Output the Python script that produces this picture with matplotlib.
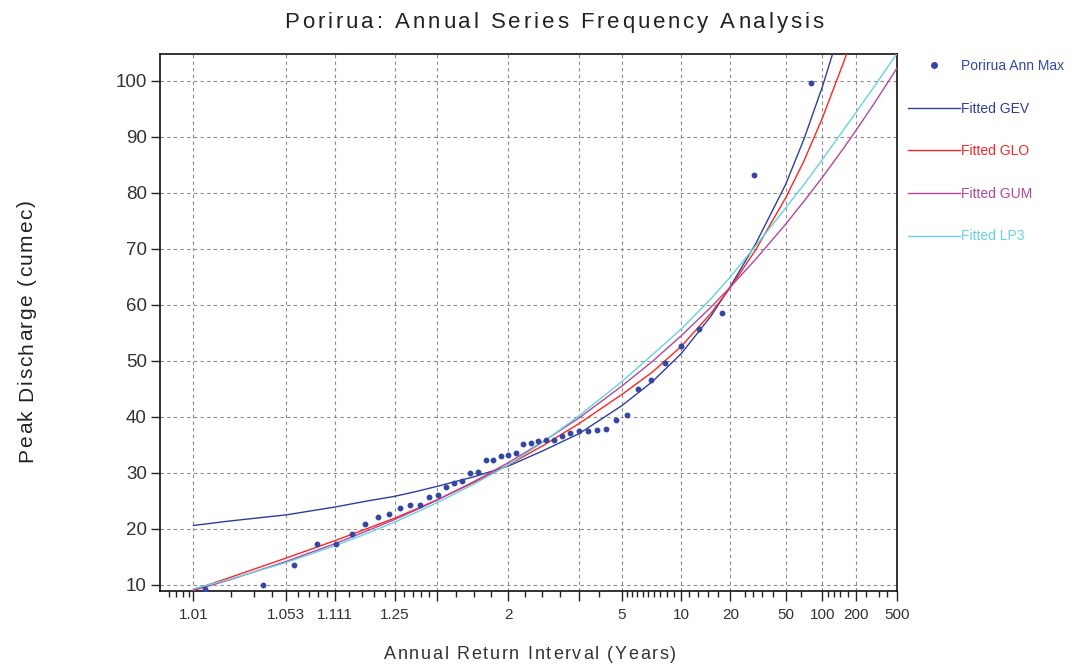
import numpy as np
import matplotlib
matplotlib.use("Agg")
import matplotlib.pyplot as plt
from matplotlib.lines import Line2D
from matplotlib.ticker import FixedLocator, FixedFormatter, NullFormatter
from matplotlib.font_manager import FontProperties, findfont
from matplotlib.ft2font import FT2Font
from statistics import NormalDist

# ---------------- data ----------------
obs_T = [1.0126, 1.0358, 1.0602, 1.0857, 1.1124, 1.1406, 1.1701, 1.2013, 1.2341,
         1.2688, 1.3056, 1.3445, 1.3858, 1.4297, 1.4764, 1.5264, 1.5798, 1.6372,
         1.6988, 1.7653, 1.8371, 1.9151, 2.0, 2.0928, 2.1946, 2.3068, 2.4310,
         2.5695, 2.7246, 2.8998, 3.0989, 3.3274, 3.5924, 3.9031, 4.2727, 4.7197,
         5.2710, 5.9683, 6.8780, 8.1151, 9.8947, 12.674, 17.625, 28.923, 80.571]
obs_Q = [9.3, 10.0, 13.6, 17.3, 17.3, 19.1, 20.9, 22.2, 22.7, 23.7, 24.2, 24.3,
         25.7, 26.0, 27.4, 28.1, 28.5, 29.9, 30.2, 32.3, 32.3, 33.0, 33.2, 33.6,
         35.1, 35.4, 35.6, 35.8, 35.8, 36.5, 37.1, 37.5, 37.5, 37.6, 37.8, 39.4,
         40.3, 44.9, 46.5, 49.7, 52.7, 55.7, 58.5, 83.2, 99.7]

gev_T = [1.01, 1.02, 1.053, 1.111, 1.176, 1.25, 1.333, 1.4286, 1.667, 2, 2.5,
         3.333, 5, 7, 10, 15, 20, 30, 50, 70, 100, 150]
gev_Q = [20.6, 21.4, 22.5, 23.9, 25.0, 25.8, 26.7, 27.6, 29.3, 31.2, 33.9,
         37.0, 42.0, 46.3, 51.3, 58.0, 63.3, 71.0, 81.5, 89.6, 99.0, 110.5]

glo_T = [1.01, 1.02, 1.053, 1.111, 1.176, 1.25, 1.333, 1.4286, 1.667, 2, 2.5,
         3.333, 5, 7, 10, 15, 20, 30, 50, 70, 100, 150, 200]
glo_Q = [9.1, 11.3, 14.8, 17.9, 20.1, 21.9, 23.6, 25.2, 28.3, 31.4, 34.8,
         38.8, 44.0, 48.0, 52.6, 58.5, 63.1, 69.9, 79.1, 85.7, 93.4, 102.8, 109.5]

gum_T = [1.01, 1.02, 1.053, 1.111, 1.176, 1.25, 1.333, 1.4286, 1.667, 2, 2.5,
         3.333, 5, 7, 10, 15, 20, 30, 50, 70, 100, 150, 200, 300, 500]
gum_Q = [9.0, 10.9, 14.2, 17.35, 19.7, 21.65, 23.45, 25.15, 28.45, 31.8, 35.5,
         39.8, 45.5, 49.9, 54.5, 59.6, 63.2, 68.2, 74.4, 78.5, 82.8, 87.7, 91.2,
         96.1, 102.3]

lp3_T = [1.01, 1.02, 1.053, 1.111, 1.176, 1.25, 1.333, 1.4286, 1.667, 2, 2.5,
         3.333, 5, 7, 10, 15, 20, 30, 50, 70, 100, 150, 200, 300, 500]
lp3_Q = [9.3, 11.0, 14.0, 17.0, 19.25, 21.2, 23.0, 24.7, 28.0, 31.4, 35.4,
         40.2, 46.3, 51.1, 55.7, 61.1, 65.0, 70.6, 77.3, 81.5, 86.0, 91.0, 94.4,
         99.1, 104.9]

major_ticks = [1.01, 1.053, 1.111, 1.25, 1.4286, 2, 3.333, 5, 10, 20, 50, 100, 200, 500]
major_labels = ["1.01", "1.053", "1.111", "1.25", "", "2", "", "5", "10", "20",
                "50", "100", "200", "500"]
minor_probs = [0.006, 0.007, 0.008, 0.009, 0.02, 0.03, 0.04, 0.06, 0.07, 0.08, 0.09,
               0.12, 0.14, 0.16, 0.18, 0.22, 0.24, 0.26, 0.28, 0.35, 0.40, 0.45,
               0.55, 0.60, 0.65, 0.75, 0.81, 0.82, 0.83, 0.84, 0.85, 0.86, 0.87,
               0.88, 0.89, 0.91, 0.92, 0.93, 0.94, 0.96, 0.965, 0.97, 0.975,
               0.985, 0.991, 0.992, 0.993, 0.994, 0.996, 0.997, 0.9975]
y_ticks = [10, 20, 30, 40, 50, 60, 70, 80, 90, 100]

title_text = "Porirua: Annual Series Frequency Analysis"
xlabel_text = "Annual Return Interval (Years)"
ylabel_text = "Peak Discharge (cumec)"
series_labels = ["Porirua Ann Max", "Fitted GEV", "Fitted GLO", "Fitted GUM", "Fitted LP3"]

c_obs = "#3447a3"
c_gev = "#2d3f9e"
c_glo = "#ff2424"
c_gum = "#b4469f"
c_lp3 = "#66d3e0"

W, H, DPI = 1075, 668, 100
FONT = 'Liberation Sans'

# ---------------- normal-probability return period scale ----------------
_nd = NormalDist()
_ppf = np.vectorize(_nd.inv_cdf, otypes=[float])
_cdf = np.vectorize(_nd.cdf, otypes=[float])


def fwd(T):
    T = np.asarray(T, dtype=float)
    p = 1.0 - 1.0 / np.clip(T, 1.0 + 1e-12, 1e12)
    p = np.clip(p, 1e-12, 1 - 1e-12)
    return _ppf(p)


def inv(z):
    z = np.clip(np.asarray(z, dtype=float), -7.0, 7.0)
    return 1.0 / (1.0 - _cdf(z))


plt.rcParams['font.family'] = [FONT, 'DejaVu Sans']

fig = plt.figure(figsize=(W / DPI, H / DPI), dpi=DPI)
ax = fig.add_axes([160 / W, 1 - 591 / H, (897 - 160) / W, (591 - 54) / H])
ax.set_xscale('function', functions=(fwd, inv))

ax.plot(gev_T, gev_Q, color=c_gev, lw=1.0, zorder=3)
ax.plot(glo_T, glo_Q, color=c_glo, lw=1.0, zorder=3)
ax.plot(gum_T, gum_Q, color=c_gum, lw=1.0, zorder=3)
ax.plot(lp3_T, lp3_Q, color=c_lp3, lw=1.0, zorder=3)
ax.plot(obs_T, obs_Q, linestyle='none', marker='o', markersize=3.2,
        color=c_obs, zorder=4)

ax.set_xlim(1.005, 500)
ax.set_ylim(8.9, 104.8)

ax.xaxis.set_major_locator(FixedLocator(major_ticks))
ax.xaxis.set_major_formatter(FixedFormatter(major_labels))
minor_T = [1.0 / (1.0 - p) for p in minor_probs]
ax.xaxis.set_minor_locator(FixedLocator(minor_T))
ax.xaxis.set_minor_formatter(NullFormatter())
ax.set_yticks(y_ticks)

ax.grid(True, which='major', linestyle=(0, (3, 3)), color='#8a8a8a', linewidth=0.8)
ax.set_axisbelow(True)

ax.tick_params(axis='x', which='major', direction='out', length=7, width=1,
               color='#222222', labelsize=11, labelcolor='#333333', pad=5)
ax.tick_params(axis='x', which='minor', direction='out', length=4.5, width=1,
               color='#222222')
ax.tick_params(axis='y', which='major', direction='out', length=6.5, width=1,
               color='#222222', labelsize=13.5, labelcolor='#333333', pad=3)
for s in ax.spines.values():
    s.set_linewidth(1.2)
    s.set_color('#111111')

# ---------------- letter-spaced text (SAS style) ----------------
_font_path = findfont(FontProperties(family=FONT))


def _advances(s, size):
    ft = FT2Font(_font_path)
    ft.set_size(size, DPI)
    return [ft.load_char(ord(ch)).linearHoriAdvance / 65536.0 for ch in s]


def spaced_text(s, cx, base, size, spacing, color):
    adv = _advances(s, size)
    total = sum(adv) + spacing * (len(s) - 1)
    pos = cx - total / 2.0
    for ch, a in zip(s, adv):
        if ch != ' ':
            fig.text(pos / W, 1 - base / H, ch, fontsize=size, color=color,
                     ha='left', va='baseline')
        pos += a + spacing


def spaced_text_up(s, x_base, cy, size, spacing, color):
    adv = _advances(s, size)
    total = sum(adv) + spacing * (len(s) - 1)
    pos = cy + total / 2.0  # start at bottom (pixel y grows downward)
    for ch, a in zip(s, adv):
        if ch != ' ':
            fig.text(x_base / W, 1 - pos / H, ch, fontsize=size, color=color,
                     rotation=90, rotation_mode='anchor', ha='left',
                     va='baseline')
        pos -= a + spacing


spaced_text(title_text, 554, 28, 16, 2.9, '#222222')
spaced_text(xlabel_text, 530, 659, 13, 1.7, '#333333')
spaced_text_up(ylabel_text, 32, 331, 15, 1.6, '#222222')

handles = [
    Line2D([], [], linestyle='none', marker='o', markersize=4, color=c_obs),
    Line2D([], [], color=c_gev, lw=1.0),
    Line2D([], [], color=c_glo, lw=1.0),
    Line2D([], [], color=c_gum, lw=1.0),
    Line2D([], [], color=c_lp3, lw=1.0),
]
fig.legend(handles, series_labels, loc='upper left',
           bbox_to_anchor=(908 / W, 1 - 59 / H), frameon=False,
           fontsize=10, handlelength=3.75, handletextpad=0.1, labelspacing=2.06,
           borderaxespad=0, borderpad=0, numpoints=1,
           labelcolor=[c_obs, c_gev, c_glo, c_gum, c_lp3])

fig.savefig("out.png", dpi=DPI)
